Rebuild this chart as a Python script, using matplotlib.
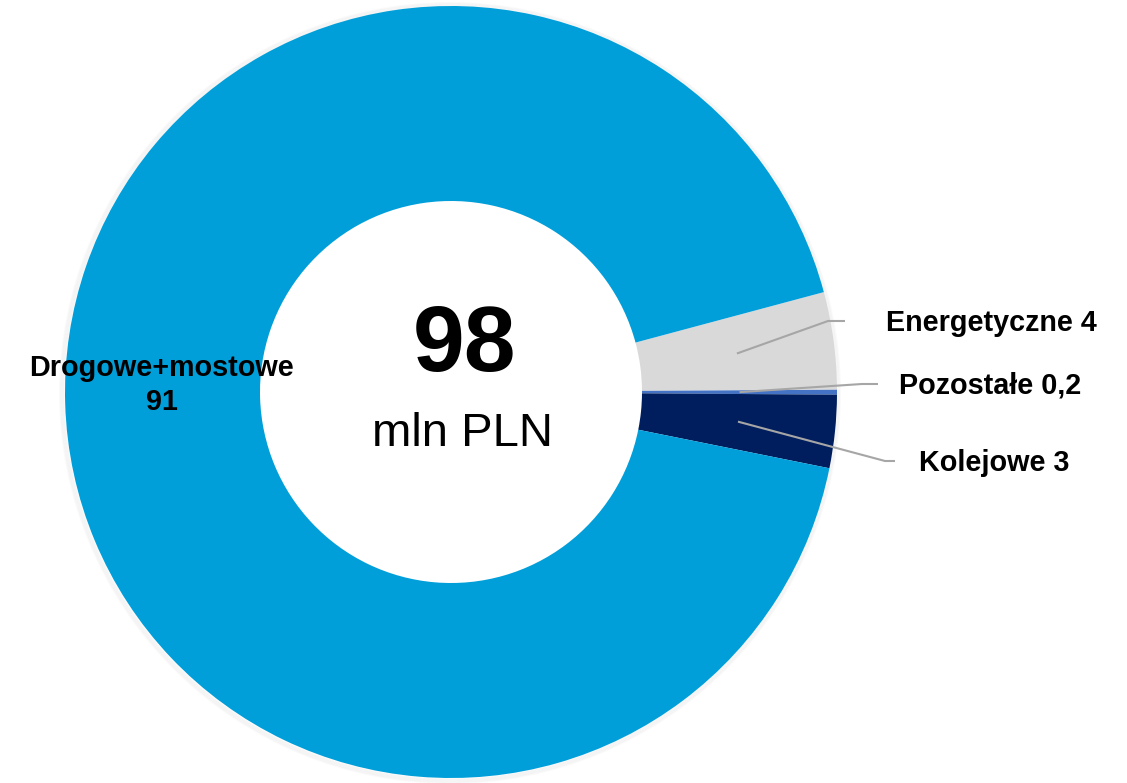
import numpy as np
import matplotlib
matplotlib.use("Agg")
import matplotlib.pyplot as plt
from matplotlib.patches import Circle

categories = ["Energetyczne", "Pozostałe", "Kolejowe", "Drogowe+mostowe"]
values = [4, 0.2, 3, 91]
value_labels = ["4", "0,2", "3", "91"]
colors = ["#D9D9D9", "#4472C4", "#001E5E", "#009FDA"]
total_label = "98"
unit_label = "mln PLN"

W, H = 1127, 783
fig = plt.figure(figsize=(W / 100, H / 100), dpi=100)
ax = fig.add_axes([0, 0, 1, 1])
ax.set_xlim(0, W)
ax.set_ylim(0, H)
ax.set_aspect("equal")
ax.axis("off")

cx, cy = 451, H - 392
R = 386
ring = 195

# soft shadow
for i in range(5):
    ax.add_patch(Circle((cx - 1, cy - 1), R + i, facecolor="none",
                        edgecolor="#000000", alpha=0.02, lw=1.5, zorder=0))

wedges, _ = ax.pie(values, colors=colors, startangle=15, counterclock=False,
                   radius=R, center=(cx, cy),
                   wedgeprops=dict(width=ring, edgecolor="none"))
ax.set_xlim(0, W)
ax.set_ylim(0, H)

font = "Liberation Sans"
lab_fs = 20.7
mid_r = R - ring / 2

# right-side labels with leader lines
label_pos = {0: (991, H - 323), 1: (990, H - 386), 2: (994, H - 463)}
elbow_x = {0: 828, 1: 862, 2: 885}
end_x = {0: 845, 1: 878, 2: 895}
for i in range(3):
    w = wedges[i]
    ang = np.deg2rad((w.theta1 + w.theta2) / 2)
    sx, sy = cx + mid_r * np.cos(ang), cy + mid_r * np.sin(ang)
    ly = label_pos[i][1] + 2
    ax.plot([sx, elbow_x[i], end_x[i]], [sy, ly, ly], color="#A6A6A6", lw=1.5,
            zorder=5, solid_capstyle="butt")
    ax.text(label_pos[i][0], label_pos[i][1], f"{categories[i]} {value_labels[i]}",
            ha="center", va="center", fontsize=lab_fs, fontweight="bold",
            family=font, color="black")

# big segment label
w = wedges[3]
ang = np.deg2rad((w.theta1 + w.theta2) / 2)
ax.text(cx + mid_r * np.cos(ang) - 1, H - 385, f"{categories[3]}\n{value_labels[3]}",
        ha="center", va="center", fontsize=lab_fs, fontweight="bold",
        family=font, color="black", linespacing=1.3)

# center text
ax.text(cx + 13, H - 347, total_label, ha="center", va="center", fontsize=67,
        fontweight="bold", family=font, color="black")
ax.text(cx + 12, H - 434, unit_label, ha="center", va="center", fontsize=34,
        family=font, color="black")

fig.savefig("out.png", dpi=100)
